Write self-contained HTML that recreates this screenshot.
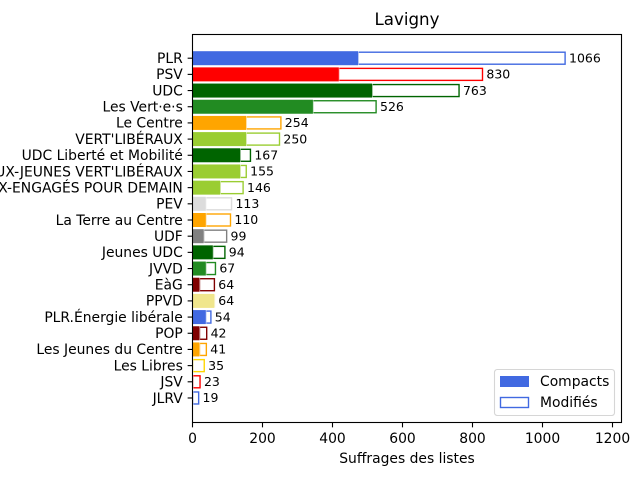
<!DOCTYPE html>
<html>
<head>
<meta charset="utf-8">
<title>Lavigny</title>
<style>
html,body{margin:0;padding:0;background:#fff;width:640px;height:480px;overflow:hidden}
svg{display:block;font-family:"DejaVu Sans","Liberation Sans",sans-serif}
</style>
</head>
<body>
<svg id="chart" xmlns="http://www.w3.org/2000/svg" width="640" height="480" viewBox="0 0 640 480"></svg>
<script>
const categories = ["PLR","PSV","UDC","Les Vert·e·s","Le Centre","VERT'LIBÉRAUX","UDC Liberté et Mobilité","VIEUX-JEUNES VERT'LIBÉRAUX","VIEUX-ENGAGÉS POUR DEMAIN","PEV","La Terre au Centre","UDF","Jeunes UDC","JVVD","EàG","PPVD","PLR.Énergie libérale","POP","Les Jeunes du Centre","Les Libres","JSV","JLRV"];
const compacts = [473,418,513,344,153,153,136,136,79,38,38,32,58,38,20,62,38,20,20,1,1,1];
const totals = [1066,830,763,526,254,250,167,155,146,113,110,99,94,67,64,64,54,42,41,35,23,19];
const colors = ["royalblue","red","darkgreen","forestgreen","orange","yellowgreen","darkgreen","yellowgreen","yellowgreen","gainsboro","orange","gray","darkgreen","forestgreen","maroon","khaki","royalblue","maroon","orange","gold","red","royalblue"];
const xTicks = [0,200,400,600,800,1000,1200];

const svg = document.getElementById('chart');
const NS = 'http://www.w3.org/2000/svg';
const axLeft = 192.5, axRight = 621.5, axTop = 34.5, axBottom = 422.5;
const xOrigin = 192.5, xPerUnit = 0.35;
const yFirst = 58.2, yStep = 16.18, modH = 12, compH = 14;
function xScale(v){ return xOrigin + v * xPerUnit; }
function yScale(i){ return yFirst + i * yStep; }
function make(tag, props, text, parent){
  const el = document.createElementNS(NS, tag);
  for (const k in props) el.setAttribute(k, props[k]);
  if (text !== undefined) el.textContent = text;
  (parent || svg).appendChild(el);
  return el;
}

const bg = make('rect', {x:axLeft, y:axTop, width:axRight-axLeft, height:axBottom-axTop, fill:'#fff'});



categories.forEach(function(name, i){
  const slug = name.toLowerCase().replace(/[^a-z0-9]+/g, '-');
  const mod = make('rect', {x:xScale(compacts[i]), y:yScale(i)-modH/2, width:xScale(totals[i])-xScale(compacts[i])-0.5, height:modH, fill:'#fff', stroke:colors[i], 'stroke-width':1.39});
  
  
  const comp = make('rect', {x:xScale(0), y:yScale(i)-compH/2, width:xScale(compacts[i])-xScale(0), height:compH, fill:colors[i], stroke:'#fff', 'stroke-opacity':0.75, 'stroke-width':1.2, 'paint-order':'stroke'});
  
  
  const val = make('text', {x:xScale(totals[i])+3.4, y:yScale(i)+4.2, 'font-size':12.5, fill:'#000'}, String(totals[i]));
  
  
  const tick = make('line', {x1:axLeft-4.86, x2:axLeft, y1:yScale(i), y2:yScale(i), stroke:'#000', 'stroke-width':1.1});
  
  
  const lab = make('text', {x:182.8, y:yScale(i)+4.8, 'font-size':13.89, 'text-anchor':'end', fill:'#000'}, name);
  
  
});

xTicks.forEach(function(t){
  const tick = make('line', {x1:xScale(t), x2:xScale(t), y1:axBottom, y2:axBottom+4.86, stroke:'#000', 'stroke-width':1.1});
  
  
  const lab = make('text', {x:xScale(t), y:443, 'font-size':13.89, 'text-anchor':'middle', fill:'#000'}, String(t));
  
  
});

const frame = make('rect', {x:axLeft, y:axTop, width:axRight-axLeft, height:axBottom-axTop, fill:'none', stroke:'#000', 'stroke-width':1.1});



const title = make('text', {x:407, y:25, 'font-size':16.67, 'text-anchor':'middle', fill:'#000'}, 'Lavigny');



const xTitle = make('text', {x:407, y:463, 'font-size':13.89, 'text-anchor':'middle', fill:'#000'}, 'Suffrages des listes');



const legend = make('g', {});


const legendBox = make('rect', {x:494.5, y:369.5, width:120, height:46, rx:2.8, fill:'#fff', 'fill-opacity':0.8, stroke:'#ccc', 'stroke-opacity':0.8, 'stroke-width':1.1}, undefined, legend);


const swatch1 = make('rect', {x:500, y:376, width:29, height:11, fill:'royalblue'}, undefined, legend);


const text1 = make('text', {x:540, y:386, 'font-size':13.89, fill:'#000'}, 'Compacts', legend);


const swatch2 = make('rect', {x:500.5, y:397.5, width:28, height:10, fill:'#fff', stroke:'royalblue', 'stroke-width':1.39}, undefined, legend);


const text2 = make('text', {x:540, y:407, 'font-size':13.89, fill:'#000'}, 'Modifiés', legend);


</script>
</body>
</html>
